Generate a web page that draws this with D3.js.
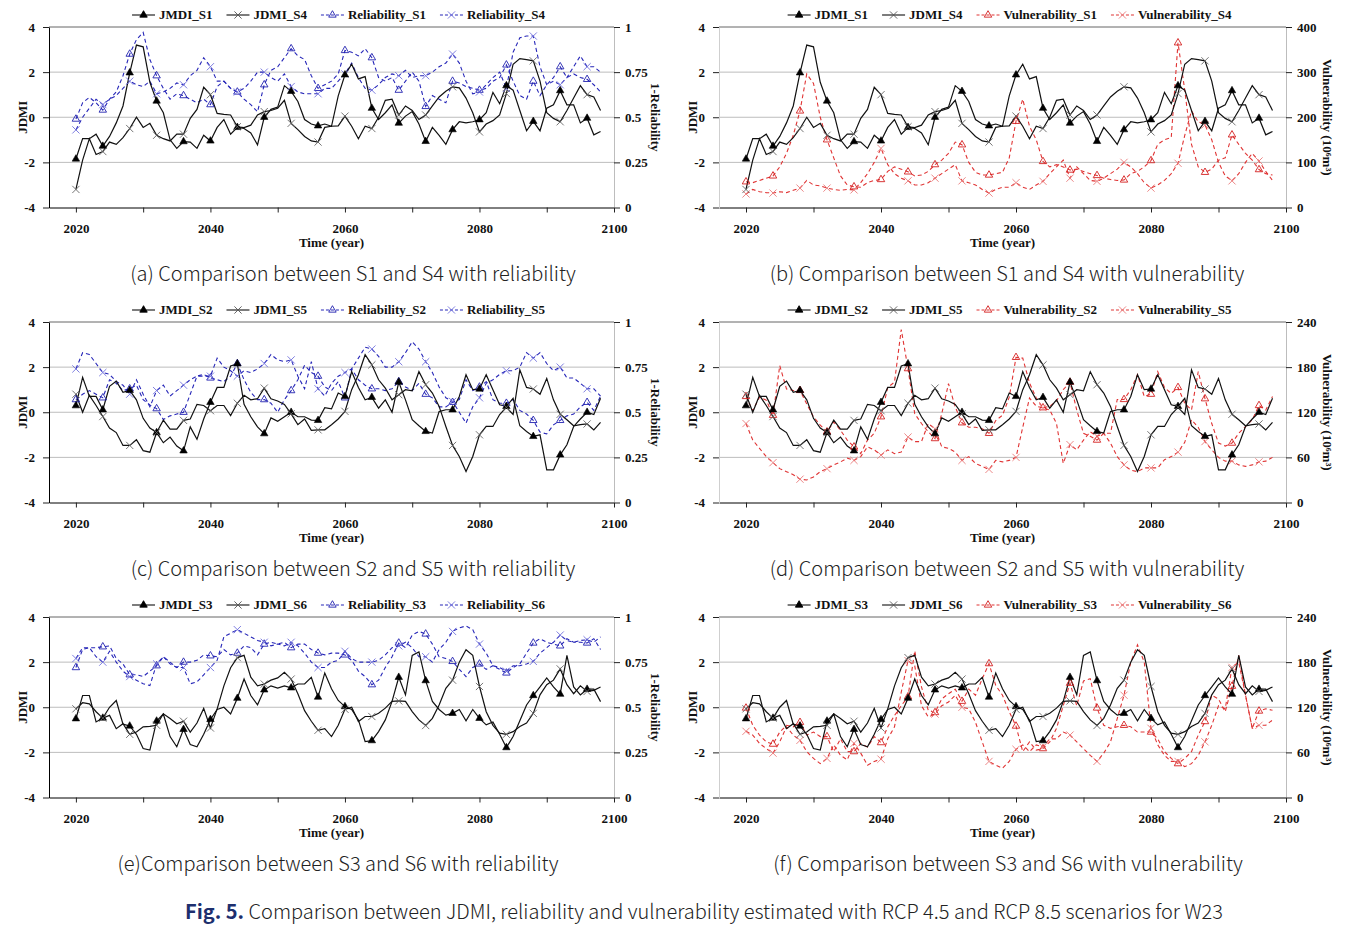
<!DOCTYPE html>
<meta charset="utf-8">
<style>
body { margin: 0; background: #fff; }
svg { display: block; }
.tk { font-family: "Liberation Serif", "Times New Roman", serif; font-weight: bold; font-size: 13px; fill: #111; }
.cap { font-family: "Noto Sans CJK KR", "Noto Sans", sans-serif; font-weight: 300; font-size: 20px; fill: #222; }
</style>
<script src="https://cdnjs.cloudflare.com/ajax/libs/d3/7.8.5/d3.min.js"></script>
<body></body>
<script>

// ---- data (yearly 2020..2098) ----
var years = d3.range(2020, 2099);
var xTicks = [2020, 2030, 2040, 2050, 2060, 2070, 2080, 2090, 2100];
var xLabels = [2020, 2040, 2060, 2080, 2100];
var jdmiTicks = [-4, -2, 0, 2, 4];
var relTicks = [0, 0.25, 0.5, 0.75, 1];
var vulTicks400 = [0, 100, 200, 300, 400];
var vulTicks240 = [0, 60, 120, 180, 240];

var jdmiS1 = [-1.85,-0.95,-0.95,-0.75,-1.28,-0.85,-0.25,0.5,1.97,3.2,
  3.12,1.55,0.72,0.2,-1.0,-1.38,-1.08,-1.1,-1.38,-0.8,
  -1.05,-0.45,-0.1,-0.75,-0.45,-0.5,-0.7,-1.22,0.0,0.35,
  0.45,1.4,1.15,0.7,-0.1,-0.3,-0.38,-0.3,-0.4,0.95,
  1.88,2.35,1.7,1.8,0.4,-0.1,0.2,0.55,-0.26,0.05,
  0.25,-0.3,-1.07,-0.45,-0.8,-1.2,-0.55,-0.2,-0.25,-0.2,
  -0.11,0.2,1.1,0.6,1.4,1.2,0.3,-0.6,-0.18,-0.6,
  0.4,0.55,1.18,0.55,0.55,-0.25,-0.04,-0.78,-0.63];
var jdmiS4 = [-3.2,-1.9,-0.95,-1.65,-1.52,-1.1,-1.2,-0.9,-0.5,0.0,
  -0.45,-0.27,-0.8,-0.95,-1.05,-0.75,-0.75,-0.05,0.35,1.33,
  1.0,0.17,0.13,0.1,-0.42,-0.46,-0.35,0.1,0.25,0.3,
  0.4,0.75,-0.27,-0.55,-0.85,-1.05,-1.1,-0.45,-0.4,-0.38,
  0.05,-0.4,-0.95,-0.4,-0.5,0.0,0.75,0.8,0.1,0.5,
  0.3,-0.1,0.1,0.5,0.9,1.15,1.35,1.3,0.85,0.2,
  -0.65,-0.3,-0.15,0.1,1.05,2.35,2.6,2.55,2.5,1.6,
  0.2,-0.05,-0.2,0.3,0.85,1.4,1.0,0.9,0.3];
var relS1 = [0.49,0.58,0.61,0.58,0.54,0.6,0.64,0.73,0.85,0.93,
  0.97,0.82,0.73,0.66,0.6,0.63,0.62,0.6,0.58,0.6,
  0.57,0.67,0.7,0.66,0.64,0.6,0.57,0.53,0.68,0.76,
  0.78,0.83,0.88,0.84,0.82,0.73,0.66,0.68,0.7,0.74,
  0.87,0.86,0.84,0.88,0.83,0.72,0.7,0.72,0.65,0.7,
  0.75,0.7,0.56,0.62,0.6,0.58,0.7,0.69,0.67,0.66,
  0.65,0.66,0.7,0.72,0.79,0.7,0.62,0.6,0.7,0.62,
  0.68,0.72,0.78,0.72,0.74,0.72,0.71,0.68,0.64];
var relS4 = [0.43,0.5,0.55,0.6,0.57,0.6,0.62,0.66,0.7,0.68,
  0.67,0.7,0.63,0.64,0.66,0.69,0.68,0.73,0.76,0.83,
  0.78,0.7,0.7,0.66,0.64,0.66,0.7,0.75,0.75,0.72,
  0.7,0.74,0.67,0.64,0.63,0.63,0.63,0.66,0.66,0.7,
  0.74,0.8,0.72,0.66,0.65,0.68,0.72,0.74,0.73,0.76,
  0.72,0.73,0.73,0.75,0.78,0.8,0.85,0.8,0.7,0.63,
  0.64,0.68,0.72,0.75,0.66,0.86,0.94,0.95,0.95,0.78,
  0.68,0.7,0.68,0.72,0.78,0.84,0.78,0.78,0.75];
var vulS1 = [57,55,60,65,70,90,120,160,214,296,
  275,200,150,110,70,50,46,45,55,60,
  62,80,90,85,79,70,72,80,95,105,
  120,145,139,100,78,72,72,75,78,110,
  191,240,180,150,102,90,95,90,83,85,
  80,75,71,65,62,60,61,75,80,90,
  104,140,150,155,365,260,140,90,78,85,
  105,110,161,140,120,105,84,75,72];
var vulS4 = [30,40,35,33,32,35,33,38,43,60,
  50,48,43,40,38,40,39,55,75,100,
  131,95,75,65,59,50,50,55,65,75,
  85,95,59,55,50,40,32,40,45,45,
  55,45,40,50,58,75,90,105,65,90,
  75,60,58,65,75,85,100,90,75,55,
  43,50,60,75,98,160,214,190,183,150,
  100,70,59,75,100,120,103,80,60];

var jdmiS2 = [0.29,1.55,0.7,0.7,0.11,1.15,1.38,0.88,0.97,0.55,
  -0.27,-0.7,-0.9,-1.35,-1.1,-1.5,-1.71,-0.65,-1.2,-0.3,
  0.44,1.1,1.1,2.05,2.15,0.35,-0.2,-0.65,-0.95,-0.25,
  -0.4,-0.2,0.0,-0.2,-0.2,-0.35,-0.36,0.2,0.15,0.85,
  0.7,1.8,1.1,0.55,0.66,0.18,0.55,0.0,1.34,0.55,
  -0.33,-0.6,-0.85,-0.92,0.03,0.11,0.11,0.7,1.66,1.0,
  1.03,1.66,1.0,0.33,0.26,0.62,-0.6,-0.85,-1.07,-1.0,
  -2.55,-2.55,-1.89,-1.44,-0.63,-0.3,0.0,-0.1,0.62];
var jdmiS5 = [0.8,0.0,0.75,0.3,-0.19,-0.7,-0.9,-1.47,-1.47,-1.22,
  -1.7,-1.77,-0.9,-0.35,-0.75,-0.75,-0.36,-0.3,0.35,0.3,
  0.07,0.3,0.3,-0.15,0.4,0.75,0.55,0.6,1.07,0.6,
  0.5,0.35,-0.07,-0.55,-0.3,-0.8,-0.78,-0.78,-0.55,-0.3,
  0.04,1.0,1.66,2.55,2.1,1.44,1.07,0.55,0.78,1.0,
  0.95,1.8,1.22,0.85,0.26,-0.63,-1.47,-1.96,-2.63,-1.96,
  -1.0,-0.63,-0.63,-0.1,0.22,-0.1,1.88,1.1,1.03,0.8,
  1.5,0.55,-0.09,-0.33,-0.6,-0.55,-0.52,-0.78,-0.45];
var relS2 = [0.57,0.6,0.62,0.6,0.58,0.68,0.66,0.62,0.63,0.65,
  0.57,0.54,0.52,0.46,0.48,0.49,0.5,0.6,0.7,0.71,
  0.69,0.68,0.67,0.7,0.77,0.68,0.61,0.57,0.57,0.55,
  0.5,0.57,0.62,0.68,0.76,0.72,0.7,0.64,0.62,0.67,
  0.58,0.74,0.68,0.65,0.63,0.63,0.62,0.63,0.67,0.64,
  0.62,0.66,0.6,0.58,0.53,0.53,0.555,0.57,0.68,0.62,
  0.64,0.67,0.57,0.55,0.55,0.57,0.51,0.49,0.455,0.39,
  0.38,0.43,0.455,0.48,0.49,0.53,0.555,0.51,0.59];
var relS5 = [0.74,0.83,0.82,0.77,0.72,0.71,0.67,0.65,0.6,0.68,
  0.6,0.53,0.62,0.65,0.59,0.62,0.65,0.68,0.7,0.7,
  0.7,0.8,0.75,0.73,0.7,0.73,0.72,0.74,0.77,0.82,
  0.79,0.78,0.79,0.7,0.63,0.78,0.63,0.59,0.66,0.7,
  0.72,0.74,0.8,0.86,0.85,0.81,0.75,0.75,0.78,0.83,
  0.89,0.85,0.78,0.72,0.64,0.58,0.56,0.5,0.44,0.53,
  0.58,0.66,0.68,0.71,0.73,0.73,0.75,0.83,0.8,0.83,
  0.77,0.73,0.75,0.69,0.69,0.66,0.63,0.63,0.59];
var vulS2 = [141,122,140,136,116,182,151,149,149,131,
  114,103,94,107,96,83,74,65,83,92,
  114,153,160,230,178,118,105,94,85,118,
  158,127,106,100,100,98,92,109,116,140,
  193,192,159,139,126,128,135,150,160,123,
  92,88,83,92,92,137,137,150,170,141,
  144,174,153,145,153,132,123,174,138,105,
  79,75,79,92,101,110,129,123,141];
var vulS5 = [105,83,72,61,53,45,41,37,31,30,
  34,41,45,50,54,59,56,61,74,70,
  63,70,65,67,87,81,81,105,98,74,
  72,67,56,61,52,48,44,56,54,56,
  60,100,139,128,126,123,105,52,77,70,
  83,94,88,92,79,61,50,43,41,46,
  46,46,57,61,67,80,110,100,81,70,
  60,55,55,50,48,50,54,55,60];

var jdmiS3 = [-0.51,0.52,0.52,-0.65,-0.48,0.0,0.3,-0.75,-0.83,-1.2,
  -1.83,-1.9,-0.61,-0.3,-1.3,-1.75,-0.98,-1.65,-1.75,-1.2,
  -0.54,-0.1,0.0,-0.3,0.4,1.25,0.52,0.11,0.77,0.95,
  0.85,0.95,0.86,1.03,1.03,1.33,0.45,1.52,0.82,0.3,
  0.03,-0.1,-0.56,-1.52,-1.48,-1.08,-0.56,0.26,1.33,0.55,
  2.3,2.45,1.18,0.26,-0.1,-0.35,-0.27,-0.1,-0.6,-0.1,
  -0.49,-0.78,-0.65,-1.2,-1.79,-1.3,-0.6,0.1,0.52,0.9,
  1.3,0.9,0.58,2.3,0.9,0.55,0.8,0.8,0.25];
var jdmiS6 = [-0.07,0.2,0.15,-0.2,-0.48,-0.36,-0.95,-0.73,-1.2,-1.1,
  -0.87,-0.85,-0.8,-0.29,-0.5,-0.73,-0.62,-1.1,-0.7,-0.05,
  -0.92,-0.07,0.95,1.75,2.2,2.3,1.33,0.95,1.03,1.2,
  1.3,1.55,1.25,0.6,-0.15,-0.62,-1.02,-0.95,-1.3,-0.8,
  -0.09,0.0,-0.63,-0.41,-0.41,-0.27,-0.04,0.26,0.28,0.26,
  -0.19,-0.56,-0.81,-0.49,0.1,0.84,1.2,2.0,2.55,2.3,
  0.92,-0.2,-0.8,-1.15,-1.2,-1.08,-0.85,-0.7,-0.27,0.55,
  1.0,1.2,1.7,1.0,0.6,0.95,0.7,0.75,0.9];
var relS3 = [0.72,0.82,0.83,0.83,0.835,0.84,0.77,0.74,0.68,0.68,
  0.67,0.7,0.73,0.78,0.75,0.72,0.75,0.75,0.76,0.79,
  0.785,0.78,0.82,0.79,0.8,0.84,0.83,0.79,0.85,0.86,
  0.85,0.86,0.83,0.85,0.85,0.82,0.8,0.79,0.8,0.8,
  0.79,0.76,0.7,0.67,0.625,0.65,0.72,0.78,0.856,0.83,
  0.9,0.92,0.906,0.85,0.78,0.77,0.754,0.71,0.67,0.72,
  0.74,0.71,0.73,0.71,0.69,0.72,0.74,0.8,0.856,0.88,
  0.86,0.85,0.84,0.88,0.86,0.86,0.856,0.88,0.82];
var relS6 = [0.77,0.83,0.83,0.78,0.75,0.81,0.75,0.7,0.67,0.65,
  0.63,0.62,0.74,0.78,0.74,0.72,0.72,0.63,0.64,0.68,
  0.72,0.76,0.89,0.91,0.93,0.91,0.89,0.87,0.86,0.84,
  0.85,0.84,0.86,0.84,0.8,0.75,0.72,0.72,0.75,0.76,
  0.81,0.77,0.75,0.75,0.75,0.76,0.79,0.83,0.84,0.86,
  0.83,0.78,0.78,0.75,0.82,0.86,0.92,0.94,0.95,0.93,
  0.85,0.8,0.73,0.72,0.7,0.73,0.73,0.74,0.754,0.8,
  0.83,0.86,0.9,0.87,0.86,0.87,0.874,0.86,0.89];
var vulS3 = [119,96,83,74,71,87,96,94,100,83,
  87,81,81,61,78,61,61,72,67,81,
  73,94,109,122,134,195,147,116,113,131,
  138,144,128,144,136,158,178,149,136,114,
  95,61,74,63,65,74,92,122,152,122,
  155,158,119,96,92,94,96,94,87,87,
  87,78,61,52,45,52,61,83,101,136,
  131,114,148,189,136,92,115,118,116];
var vulS6 = [88,83,72,65,59,74,94,83,76,61,
  52,45,52,70,56,50,72,59,43,48,
  51,78,94,140,182,175,122,107,111,122,
  127,136,120,118,100,74,48,43,39,48,
  64,70,61,70,67,78,78,87,83,74,
  65,56,48,59,74,105,136,180,203,180,
  92,70,56,48,48,41,45,56,74,96,
  122,118,173,180,136,92,96,96,103];

var panels = [
  { row: 0, col: 0, jdmi: [jdmiS1, jdmiS4], sec: [relS1, relS4], secTicks: relTicks, tone: 'blue',
    secLabel: '1-Reliability', legend: ['JMDI_S1', 'JDMI_S4', 'Reliability_S1', 'Reliability_S4'],
    caption: '(a) Comparison between S1 and S4 with reliability', capX: 353 },
  { row: 0, col: 1, jdmi: [jdmiS1, jdmiS4], sec: [vulS1, vulS4], secTicks: vulTicks400, tone: 'red',
    secLabel: 'Vulnerability (10\u2076m\u00b3)', legend: ['JDMI_S1', 'JDMI_S4', 'Vulnerability_S1', 'Vulnerability_S4'],
    caption: '(b) Comparison between S1 and S4 with vulnerability', capX: 1007 },
  { row: 1, col: 0, jdmi: [jdmiS2, jdmiS5], sec: [relS2, relS5], secTicks: relTicks, tone: 'blue',
    secLabel: '1-Reliability', legend: ['JMDI_S2', 'JDMI_S5', 'Reliability_S2', 'Reliability_S5'],
    caption: '(c) Comparison between S2 and S5 with reliability', capX: 353 },
  { row: 1, col: 1, jdmi: [jdmiS2, jdmiS5], sec: [vulS2, vulS5], secTicks: vulTicks240, tone: 'red',
    secLabel: 'Vulnerability (10\u2076m\u00b3)', legend: ['JDMI_S2', 'JDMI_S5', 'Vulnerability_S2', 'Vulnerability_S5'],
    caption: '(d) Comparison between S2 and S5 with vulnerability', capX: 1007 },
  { row: 2, col: 0, jdmi: [jdmiS3, jdmiS6], sec: [relS3, relS6], secTicks: relTicks, tone: 'blue',
    secLabel: '1-Reliability', legend: ['JMDI_S3', 'JDMI_S6', 'Reliability_S3', 'Reliability_S6'],
    caption: '(e)Comparison between S3 and S6 with reliability', capX: 338 },
  { row: 2, col: 1, jdmi: [jdmiS3, jdmiS6], sec: [vulS3, vulS6], secTicks: vulTicks240, tone: 'red',
    secLabel: 'Vulnerability (10\u2076m\u00b3)', legend: ['JDMI_S3', 'JDMI_S6', 'Vulnerability_S3', 'Vulnerability_S6'],
    caption: '(f) Comparison between S3 and S6 with vulnerability', capX: 1008 }
];

// ---- layout ----
var width = 1353, height = 928;
var cols = [{ x0: 49, x1: 614 }, { x0: 719, x1: 1286 }];
var rowTop = 27, rowStep = 295, plotH = 180.5;
var tones = {
  blue: { line: '#2626b8', mark: '#2222b0', cross: '#7070dc' },
  red: { line: '#e03434', mark: '#d42020', cross: '#ea7a7a' }
};
var triPath = d3.symbol(d3.symbolTriangle, 24)();
var xPath = 'M-3.6,-3.6L3.6,3.6M-3.6,3.6L3.6,-3.6';

var svg = d3.select('body').append('svg')
  .attr('width', width)
  .attr('height', height);

function styleAxis(sel, domainColor) {
  sel.attr('font-family', null).attr('font-size', null);
  sel.selectAll('text').attr('class', 'tk');
  sel.selectAll('.tick line').attr('stroke', '#222');
  sel.select('.domain').attr('stroke', domainColor);
}

function addMarkers(g, vals, sx, sy, shape, color, filled) {
  var pts = vals.map(function(v, i) { return [years[i], v]; })
    .filter(function(d) { return (d[0] - 2020) % 4 === 0; });
  g.selectAll(null).data(pts).join('path')
    .attr('d', shape)
    .attr('transform', function(d) { return 'translate(' + sx(d[0]) + ',' + sy(d[1]) + ')'; })
    .attr('fill', filled ? color : 'none')
    .attr('stroke', color)
    .attr('stroke-width', filled ? 0.6 : 0.9);
}

panels.forEach(function(p) {
  var c = cols[p.col];
  var top = rowTop + p.row * rowStep, bot = top + plotH;
  var x = d3.scaleLinear().domain([2016, 2100]).range([c.x0, c.x1]);
  var y = d3.scaleLinear().domain([-4, 4]).range([bot, top]);
  var y2 = d3.scaleLinear().domain(d3.extent(p.secTicks)).range([bot, top]);
  var tone = tones[p.tone];
  var g = svg.append('g');

  // gridlines
  g.selectAll('line.grid').data(jdmiTicks.slice(1)).join('line')
    .attr('x1', c.x0).attr('x2', c.x1)
    .attr('y1', function(d) { return y(d); }).attr('y2', function(d) { return y(d); })
    .attr('stroke', function(d) { return d === 4 ? '#666' : '#bdbdbd'; })
    .attr('stroke-width', 1);

  // axes
  g.append('g').attr('transform', 'translate(0,' + bot + ')')
    .call(d3.axisBottom(x).tickValues(xTicks).tickSize(5).tickSizeOuter(0).tickPadding(11)
      .tickFormat(function(d) { return xLabels.indexOf(d) >= 0 ? d : ''; }))
    .call(styleAxis, '#000');
  g.append('g').attr('transform', 'translate(' + c.x0 + ',0)')
    .call(d3.axisLeft(y).tickValues(jdmiTicks).tickSize(6).tickSizeOuter(0).tickPadding(8)
      .tickFormat(function(d) { return String(d); }))
    .call(styleAxis, p.col === 0 ? '#000' : '#cfcfcf');
  g.append('g').attr('transform', 'translate(' + c.x1 + ',0)')
    .call(d3.axisRight(y2).tickValues(p.secTicks).tickSize(6).tickSizeOuter(0).tickPadding(5)
      .tickFormat(function(d) { return String(d); }))
    .call(styleAxis, '#bdbdbd');

  // axis titles
  g.append('text').attr('class', 'tk').attr('text-anchor', 'middle')
    .attr('x', (c.x0 + c.x1) / 2).attr('y', bot + 39).text('Time (year)');
  g.append('text').attr('class', 'tk').attr('text-anchor', 'middle')
    .attr('transform', 'translate(' + (c.x0 - 27) + ',' + (top + plotH / 2) + ') rotate(-90)')
    .attr('dy', '0.35em').text('JDMI');
  g.append('text').attr('class', 'tk').attr('text-anchor', 'middle')
    .attr('transform', 'translate(' + (c.x1 + 42) + ',' + (top + plotH / 2) + ') rotate(90)')
    .attr('dy', '0.35em').text(p.secLabel);

  // series
  var lineSec = d3.line().x(function(d, i) { return x(years[i]); }).y(function(d) { return y2(d); });
  var lineJ = d3.line().x(function(d, i) { return x(years[i]); }).y(function(d) { return y(d); });

  p.sec.forEach(function(s) {
    g.append('path').attr('d', lineSec(s)).attr('fill', 'none')
      .attr('stroke', tone.line).attr('stroke-width', 1.1).attr('stroke-dasharray', '4,3');
  });
  p.jdmi.forEach(function(s) {
    g.append('path').attr('d', lineJ(s)).attr('fill', 'none')
      .attr('stroke', '#111').attr('stroke-width', 1.2);
  });
  addMarkers(g, p.sec[0], x, y2, triPath, tone.mark, false);
  addMarkers(g, p.sec[1], x, y2, xPath, tone.cross, false);
  addMarkers(g, p.jdmi[0], x, y, triPath, '#000', true);
  addMarkers(g, p.jdmi[1], x, y, xPath, '#666', false);

  // legend
  var lg = g.append('g');
  var ly = top - 12;
  var styles = [
    { stroke: '#111', dash: null, shape: triPath, color: '#000', fill: true },
    { stroke: '#111', dash: null, shape: xPath, color: '#555', fill: false },
    { stroke: tone.line, dash: '3,2', shape: triPath, color: tone.mark, fill: false },
    { stroke: tone.line, dash: '3,2', shape: xPath, color: tone.cross, fill: false }
  ];
  var cursor = 0, items = [];
  p.legend.forEach(function(name, k) {
    var it = lg.append('g');
    var st = styles[k];
    it.append('line').attr('x1', 0).attr('x2', 23).attr('y1', 0).attr('y2', 0)
      .attr('stroke', st.stroke).attr('stroke-width', 1.1).attr('stroke-dasharray', st.dash);
    it.append('path').attr('d', st.shape).attr('transform', 'translate(11.5,0)')
      .attr('fill', st.fill ? st.color : 'none').attr('stroke', st.color).attr('stroke-width', 0.9);
    var t = it.append('text').attr('class', 'tk').attr('x', 27).attr('dy', '0.33em').text(name);
    var w = 27 + t.node().getComputedTextLength();
    items.push({ g: it, x: cursor });
    cursor += w + 14;
  });
  var total = cursor - 14;
  var lx0 = (c.x0 + c.x1) / 2 + 7 - total / 2;
  items.forEach(function(it) { it.g.attr('transform', 'translate(' + (lx0 + it.x) + ',' + ly + ')'); });

  // caption
  svg.append('text').attr('class', 'cap').attr('text-anchor', 'middle')
    .attr('x', p.capX).attr('y', bot + 73).text(p.caption);
});

var fig = svg.append('text').attr('class', 'cap').attr('text-anchor', 'middle')
  .attr('x', 704).attr('y', 919);
fig.append('tspan').attr('font-weight', 'bold').attr('fill', '#1d2f6e').text('Fig. 5.');
fig.append('tspan').text(' Comparison between JDMI, reliability and vulnerability estimated with RCP 4.5 and RCP 8.5 scenarios for W23');

</script>
